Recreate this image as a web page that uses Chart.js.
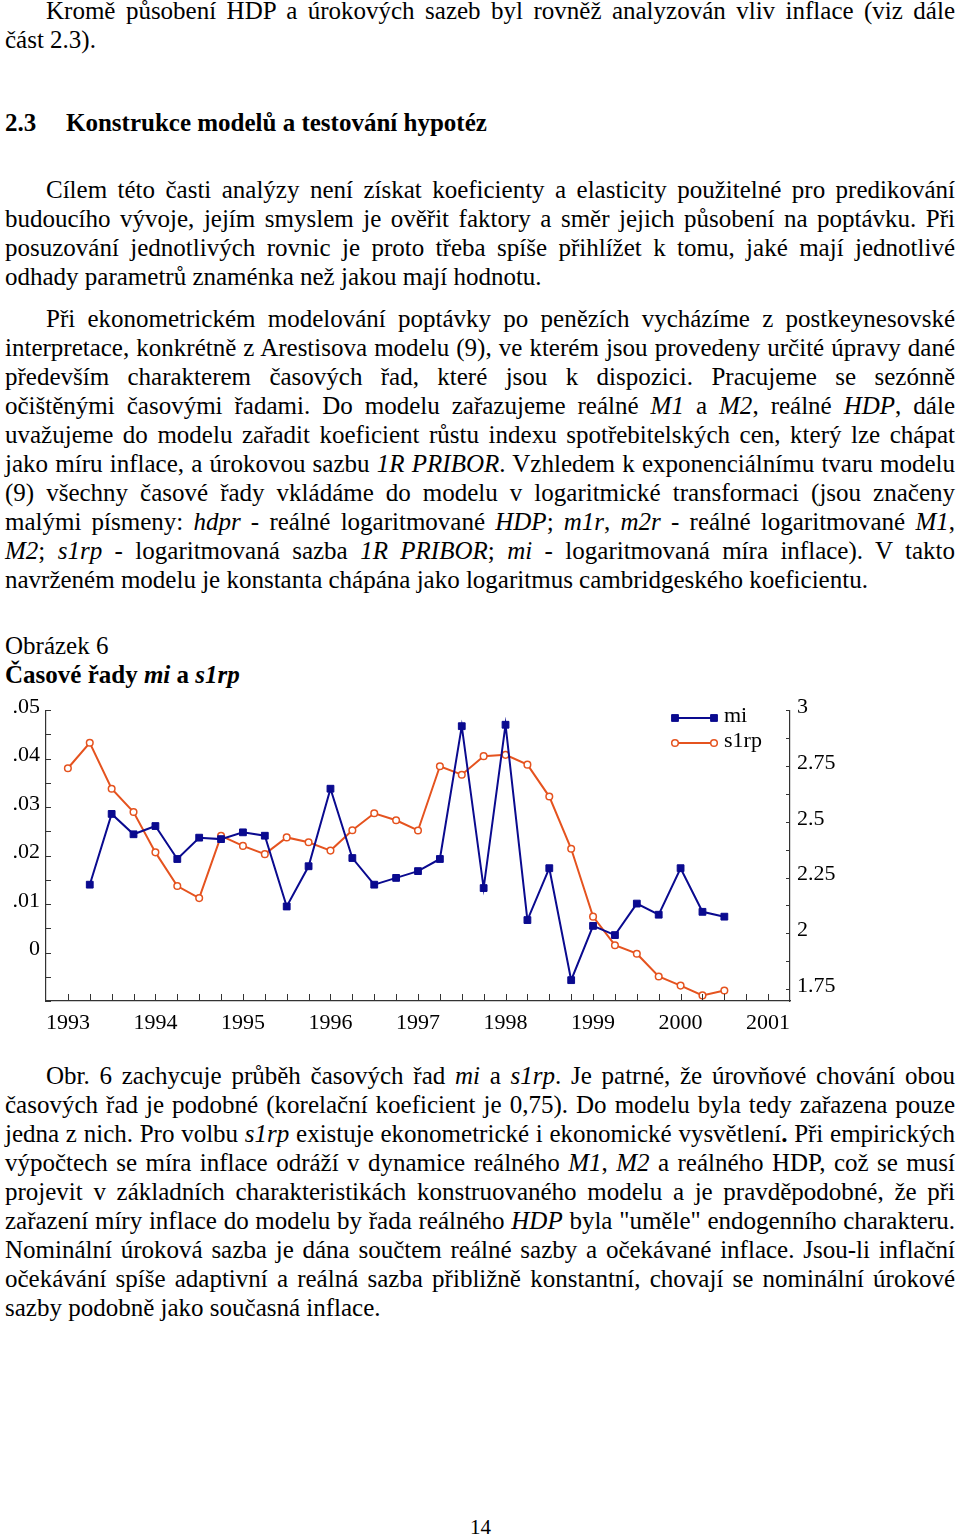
<!DOCTYPE html>
<html><head><meta charset="utf-8">
<script src="https://cdn.jsdelivr.net/npm/chart.js@4"></script>
<style>
html,body{margin:0;padding:0;background:#fff;}
body{width:960px;height:1537px;position:relative;overflow:hidden;font-family:'Liberation Serif','Times New Roman',serif;color:#000;}
.ln{position:absolute;left:5px;width:950px;font-size:25px;line-height:29px;white-space:nowrap;}
.ln span{white-space:nowrap;}
#wrap{position:absolute;left:0;top:690px;width:850px;height:350px;}
</style></head>
<body>
<div id="wrap"><canvas id="c" width="850" height="350"></canvas></div>
<script>
// ---------------- data ----------------
const periods = ['1993Q1','1993Q2','1993Q3','1993Q4','1994Q1','1994Q2','1994Q3','1994Q4',
  '1995Q1','1995Q2','1995Q3','1995Q4','1996Q1','1996Q2','1996Q3','1996Q4',
  '1997Q1','1997Q2','1997Q3','1997Q4','1998Q1','1998Q2','1998Q3','1998Q4',
  '1999Q1','1999Q2','1999Q3','1999Q4','2000Q1','2000Q2','2000Q3'];
const miValues = [null,0.0140,0.0286,0.0244,0.0261,0.0193,0.0237,0.0234,
  0.0248,0.0241,0.0095,0.0178,0.0338,0.0195,0.0140,0.0154,
  0.0168,0.0193,0.0467,0.0133,0.0470,0.0067,0.0174,-0.0057,
  0.0055,0.0036,0.0101,0.0078,0.0174,0.0084,0.0074];
const s1rpValues = [2.740,2.854,2.648,2.544,2.363,2.212,2.158,2.437,
  2.392,2.355,2.430,2.408,2.371,2.462,2.538,2.507,
  2.461,2.749,2.711,2.794,2.800,2.756,2.613,2.379,
  2.075,1.947,1.909,1.807,1.766,1.722,1.744];
const seriesNames = ['mi','s1rp'];
const yearLabels = ['1993','1994','1995','1996','1997','1998','1999','2000','2001'];
const leftTickLabels = ['0','.01','.02','.03','.04','.05'];
const rightTickLabels = ['1.75','2','2.25','2.5','2.75','3'];

// ---------------- text ----------------
const textBlocks = [
 {top:-4, lines:['Kromě působení HDP a úrokových sazeb byl rovněž analyzován vliv inflace (viz dále','část 2.3).']},
 {top:175, lines:['Cílem této časti analýzy není získat koeficienty a elasticity použitelné pro predikování',
  'budoucího vývoje, jejím smyslem je ověřit faktory a směr jejich působení na poptávku. Při',
  'posuzování jednotlivých rovnic je proto třeba spíše přihlížet k tomu, jaké mají jednotlivé',
  'odhady parametrů znaménka než jakou mají hodnotu.']},
 {top:304, lines:['Při ekonometrickém modelování poptávky po penězích vycházíme z postkeynesovské',
  'interpretace, konkrétně z Arestisova modelu (9), ve kterém jsou provedeny určité úpravy dané',
  'především charakterem časových řad, které jsou k dispozici. Pracujeme se sezónně',
  'očištěnými časovými řadami. Do modelu zařazujeme reálné <i>M1</i> a <i>M2</i>, reálné <i>HDP</i>, dále',
  'uvažujeme do modelu zařadit koeficient růstu indexu spotřebitelských cen, který lze chápat',
  'jako míru inflace, a úrokovou sazbu <i>1R PRIBOR</i>. Vzhledem k exponenciálnímu tvaru modelu',
  '(9) všechny časové řady vkládáme do modelu v logaritmické transformaci (jsou značeny',
  'malými písmeny: <i>hdpr</i> - reálné logaritmované <i>HDP</i>; <i>m1r</i>, <i>m2r</i> - reálné logaritmované <i>M1</i>,',
  '<i>M2</i>; <i>s1rp</i> - logaritmovaná sazba <i>1R PRIBOR</i>; <i>mi</i> - logaritmovaná míra inflace). V takto',
  'navrženém modelu je konstanta chápána jako logaritmus cambridgeského koeficientu.']},
 {top:1061, lines:['Obr. 6 zachycuje průběh časových řad <i>mi</i> a <i>s1rp</i>. Je patrné, že úrovňové chování obou',
  'časových řad je podobné (korelační koeficient je 0,75). Do modelu byla tedy zařazena pouze',
  'jedna z nich. Pro volbu <i>s1rp</i> existuje ekonometrické i ekonomické vysvětlení<b>.</b> Při empirických',
  'výpočtech se míra inflace odráží v dynamice reálného <i>M1</i>, <i>M2</i> a reálného HDP, což se musí',
  'projevit v základních charakteristikách konstruovaného modelu a je pravděpodobné, že při',
  'zařazení míry inflace do modelu by řada reálného <i>HDP</i> byla "uměle" endogenního charakteru.',
  'Nominální úroková sazba je dána součtem reálné sazby a očekávané inflace. Jsou-li inflační',
  'očekávání spíše adaptivní a reálná sazba přibližně konstantní, chovají se nominální úrokové',
  'sazby podobně jako současná inflace.']}
];
function addLine(html, top, left, width, justify, extraStyle){
  const d = document.createElement('div');
  d.className = 'ln';
  d.style.top = top + 'px'; d.style.left = left + 'px'; d.style.width = width + 'px';
  if (extraStyle) d.setAttribute('style', d.getAttribute('style') + ';' + extraStyle);
  const s = document.createElement('span');
  s.innerHTML = html;
  d.appendChild(s);
  document.body.appendChild(d);
  if (justify) {
    const w = s.getBoundingClientRect().width;
    const n = (s.textContent.match(/ /g) || []).length;
    if (n > 0) s.style.wordSpacing = ((width - w) / n) + 'px';
  }
}
textBlocks.forEach(b => {
  b.lines.forEach((l, i) => {
    const first = i === 0;
    const last = i === b.lines.length - 1;
    const left = first ? 46 : 5;
    addLine(l, b.top + i * 29, left, 955 - left, !last);
  });
});
addLine('<b>2.3</b>', 108, 5, 60, false);
addLine('<b>Konstrukce modelů a testování hypotéz</b>', 108, 66, 800, false);
addLine('Obrázek 6', 631, 5, 400, false);
addLine('<b>Časové řady <i>mi</i> a <i>s1rp</i></b>', 660, 5, 500, false);
addLine('14', 1515, 400, 161, false, 'text-align:center;font-size:21px;line-height:24px');

// ---------------- chart ----------------
const toX = p => parseInt(p.slice(0,4)) + (parseInt(p.slice(5)) - 1) / 4;
const miData = periods.map((p,i) => ({x: toX(p), y: miValues[i]}));
const s1rpData = periods.map((p,i) => ({x: toX(p), y: s1rpValues[i]}));

function withMinor(labels){
  const v = labels.map(parseFloat);
  const out = [];
  for (let i = 0; i < v.length; i++) {
    out.push(v[i]);
    if (i < v.length - 1) out.push((v[i] + v[i+1]) / 2);
  }
  return out;
}
const xTickVals = (() => { const v = yearLabels.map(parseFloat); const o = [];
  for (let i = 0; i < v.length; i++) { o.push(v[i]); if (i < v.length-1) { o.push(v[i]+0.25, v[i]+0.5, v[i]+0.75); } } return o; })();
const leftTickVals = [-0.01, -0.005].concat(withMinor(leftTickLabels));
const rightTickVals = withMinor(rightTickLabels);
const lbl = (arr) => (v) => { const m = arr.find(a => Math.abs(parseFloat(a) - v) < 1e-9); return m === undefined ? '' : m; };

Chart.defaults.font.family = "'Liberation Serif','Times New Roman',serif";
Chart.defaults.font.size = 22;
Chart.defaults.color = '#000';

const MI_COLOR = '#0a0a8f';
const S1_COLOR = '#e5531f';

const inwardTicks = {
  id: 'inwardTicks',
  afterDraw(chart) {
    const ctx = chart.ctx; const a = chart.chartArea;
    ctx.save(); ctx.strokeStyle = '#333'; ctx.lineWidth = 1;
    const x = chart.scales.x, yl = chart.scales.yL, yr = chart.scales.yR;
    ctx.beginPath();
    x.ticks.forEach(t => { const px = Math.round(x.getPixelForValue(t.value)) + 0.5; ctx.moveTo(px, a.bottom); ctx.lineTo(px, a.bottom - 7); });
    yl.ticks.forEach(t => { const py = Math.round(yl.getPixelForValue(t.value)) + 0.5; ctx.moveTo(a.left, py); ctx.lineTo(a.left + 5, py); });
    yr.ticks.forEach(t => { const py = Math.round(yr.getPixelForValue(t.value)) + 0.5; ctx.moveTo(a.right, py); ctx.lineTo(a.right - 4, py); });
    ctx.stroke();
    ctx.restore();
  }
};
const customLegend = {
  id: 'customLegend',
  afterDraw(chart) {
    const ctx = chart.ctx;
    ctx.save();
    chart.data.datasets.forEach((ds, i) => {
      const y = 28 + i * 25;
      const x0 = 675, x1 = 714;
      ctx.strokeStyle = ds.borderColor; ctx.lineWidth = 2;
      ctx.beginPath(); ctx.moveTo(x0, y); ctx.lineTo(x1, y); ctx.stroke();
      ctx.fillStyle = ds.pointBackgroundColor; ctx.strokeStyle = ds.pointBorderColor; ctx.lineWidth = ds.pointBorderWidth;
      [x0, x1].forEach(px => Chart.helpers.drawPoint(ctx, {pointStyle: ds.pointStyle, rotation: 0, radius: ds.pointRadius, borderWidth: ds.pointBorderWidth}, px, y));
      ctx.fillStyle = '#000'; ctx.font = "22px 'Liberation Serif'"; ctx.textBaseline = 'middle'; ctx.textAlign = 'left';
      ctx.fillText(ds.label, 724, y - 2);
    });
    ctx.restore();
  }
};

new Chart(document.getElementById('c'), {
  type: 'line',
  data: { datasets: [
    { label: seriesNames[0], data: miData, yAxisID: 'yL', borderColor: MI_COLOR, backgroundColor: MI_COLOR,
      borderWidth: 2, pointStyle: 'rect', pointRadius: 4.8, pointBackgroundColor: MI_COLOR, pointBorderColor: MI_COLOR,
      pointBorderWidth: 1, tension: 0, spanGaps: false },
    { label: seriesNames[1], data: s1rpData, yAxisID: 'yR', borderColor: S1_COLOR, backgroundColor: S1_COLOR,
      borderWidth: 2, pointStyle: 'circle', pointRadius: 3.3, pointBackgroundColor: '#fff', pointBorderColor: S1_COLOR,
      pointBorderWidth: 1.5, tension: 0 }
  ]},
  options: {
    responsive: false, animation: false, devicePixelRatio: 1,
    layout: { padding: { top: 14, left: 0, right: 0, bottom: 0 } },
    plugins: { legend: { display: false }, tooltip: { enabled: false } },
    scales: {
      x: { type: 'linear', min: 1992.75, max: 2001.25,
        afterBuildTicks: s => { s.ticks = xTickVals.map(v => ({value: v})); },
        afterFit: s => { s.height = 39; },
        ticks: { autoSkip: false, maxRotation: 0, padding: 9, callback: lbl(yearLabels) },
        grid: { display: true, drawOnChartArea: false, drawTicks: false },
        border: { display: true, color: '#333', width: 1.2 } },
      yL: { type: 'linear', position: 'left', min: -0.01, max: 0.05,
        afterBuildTicks: s => { s.ticks = leftTickVals.map(v => ({value: v})); },
        afterFit: s => { s.width = 46; },
        ticks: { autoSkip: false, padding: 6, labelOffset: -3, callback: lbl(leftTickLabels) },
        grid: { display: true, drawOnChartArea: false, drawTicks: false },
        border: { display: true, color: '#333', width: 1.2 } },
      yR: { type: 'linear', position: 'right', min: 1.697, max: 3,
        afterBuildTicks: s => { s.ticks = rightTickVals.map(v => ({value: v})); },
        afterFit: s => { s.width = 60; },
        ticks: { autoSkip: false, padding: 7, labelOffset: -3, callback: lbl(rightTickLabels) },
        grid: { display: true, drawOnChartArea: false, drawTicks: false },
        border: { display: true, color: '#333', width: 1.2 } }
    }
  },
  plugins: [inwardTicks, customLegend]
});
</script>
</body></html>
